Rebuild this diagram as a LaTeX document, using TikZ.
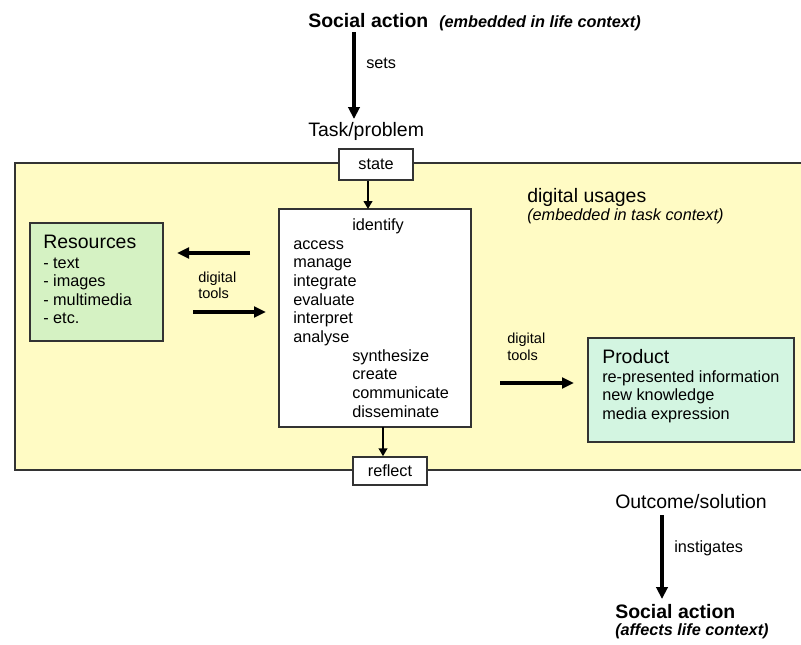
\documentclass[tikz,border=0pt]{standalone}
\usepackage{fontspec}
\setmainfont{Liberation Sans}
\usetikzlibrary{arrows.meta,calc}
\definecolor{usagefill}{HTML}{FFFBC4}
\definecolor{resfill}{HTML}{D5F2C3}
\definecolor{prodfill}{HTML}{D3F5E1}
\definecolor{framecol}{HTML}{333333}
\begin{document}
\begin{tikzpicture}[x=0.75pt,y=-0.75pt,
  txt/.style={anchor=base west, inner sep=0pt, font=\fontsize{12.2}{14}\selectfont},
  bigtxt/.style={anchor=base west, inner sep=0pt, font=\fontsize{14.6}{17}\selectfont},
  smalltxt/.style={anchor=base west, inner sep=0pt, font=\fontsize{10.9}{13}\selectfont},
  panel/.style={draw=framecol, line width=1.1pt, anchor=north west, inner sep=0pt, outer sep=0pt},
  smallbox/.style={draw=framecol, line width=1.1pt, fill=white, inner sep=0pt, font=\fontsize{12.2}{14}\selectfont},
  bigarrow/.style={line width=2.6pt, -{Triangle[length=9pt,width=8.5pt]}},
  toolarrow/.style={line width=2.4pt, -{Triangle[length=9pt,width=8pt]}},
  shortarrow/.style={line width=1.6pt, -{Triangle[length=6pt,width=6.5pt]}}
]
\useasboundingbox (0,0) rectangle (801,644);
\clip (0,0) rectangle (801,644);
\fill[white] (0,0) rectangle (801,644);

% top
\node[bigtxt, font=\fontsize{14.6}{17}\selectfont\bfseries] (sa1) at (308,27) {Social action};
\node[txt, font=\fontsize{12.2}{14}\selectfont\bfseries\itshape] (ctx1) at (439,27) {(embedded in life context)};
\coordinate (a1s) at (354,32);
\coordinate (a1e) at (354,119);
\draw[bigarrow] (a1s) -- (a1e);
\node[txt] (sets) at (366,68) {sets};
\node[bigtxt] (task) at (308,136) {Task/problem};

% yellow panel (runs past the right edge: no right side)
\node[anchor=north west, inner sep=0pt, outer sep=0pt, fill=usagefill, minimum width=640pt, minimum height=230.25pt] (usage) at (15,163) {};
\draw[draw=framecol, line width=1.1pt] (usage.north east) -- (usage.north west) -- (usage.south west) -- (usage.south east);
\node[bigtxt] (du) at (527,202) {digital usages};
\node[txt, font=\fontsize{12.2}{14}\selectfont\itshape] (ductx) at (527,220) {(embedded in task context)};

% state / reflect
\node[smallbox, minimum width=55.5pt, minimum height=23.25pt] (state) at (376,164.5) {state};
\node[smallbox, minimum width=55.5pt, minimum height=21pt] (reflect) at (390,471) {reflect};

% central box
\node[panel, fill=white, minimum width=144pt, minimum height=163.5pt] (central) at (279,209) {};
\node[txt] (l1) at (352,230) {identify};
\node[txt] (l2) at (293,249) {access};
\node[txt] (l3) at (293,267.5) {manage};
\node[txt] (l4) at (293,286) {integrate};
\node[txt] (l5) at (293,305) {evaluate};
\node[txt] (l6) at (293,323.5) {interpret};
\node[txt] (l7) at (293,342) {analyse};
\node[txt] (l8) at (352,361) {synthesize};
\node[txt] (l9) at (352,379.5) {create};
\node[txt] (l10) at (352,398) {communicate};
\node[txt] (l11) at (352,417) {disseminate};

\coordinate (sin) at ($(central.north)+(-7,0)$);
\draw[shortarrow] (state.south -| sin) -- (sin);
\coordinate (rout) at ($(central.south)+(8,0)$);
\draw[shortarrow] (rout) -- (reflect.north -| rout);

% resources
\node[panel, fill=resfill, minimum width=99.75pt, minimum height=88.5pt] (res) at (30,223) {};
\node[bigtxt] (r0) at (43,248) {Resources};
\node[txt] (r1) at (43,268) {- text};
\node[txt] (r2) at (43,286.5) {- images};
\node[txt] (r3) at (43,305) {- multimedia};
\node[txt] (r4) at (43,323.5) {- etc.};

\coordinate (la1) at (250,253);
\coordinate (la2) at (177,253);
\draw[toolarrow] (la1) -- (la2);
\coordinate (ra1) at (193,312);
\coordinate (ra2) at (266,312);
\draw[toolarrow] (ra1) -- (ra2);
\node[smalltxt] (dt1) at (198,282) {digital};
\node[smalltxt] (dt2) at (198,298) {tools};

% product
\node[panel, fill=prodfill, minimum width=154.5pt, minimum height=78pt] (prod) at (588,338) {};
\node[bigtxt] (p0) at (602,363) {Product};
\node[txt] (p1) at (602,382) {re-presented information};
\node[txt] (p2) at (602,400.5) {new knowledge};
\node[txt] (p3) at (602,419) {media expression};
\coordinate (pa1) at (500,383);
\coordinate (pa2) at (574,383);
\draw[toolarrow] (pa1) -- (pa2);
\node[smalltxt] (dt3) at (507,343) {digital};
\node[smalltxt] (dt4) at (507,360) {tools};

% bottom
\node[bigtxt] (out) at (615,508) {Outcome/solution};
\coordinate (b1s) at (662,515);
\coordinate (b1e) at (662,599);
\draw[bigarrow] (b1s) -- (b1e);
\node[txt] (inst) at (674,552) {instigates};
\node[bigtxt, font=\fontsize{14.6}{17}\selectfont\bfseries] (sa2) at (615,618) {Social action};
\node[txt, font=\fontsize{12.2}{14}\selectfont\bfseries\itshape] (ctx2) at (615,635) {(affects life context)};
\end{tikzpicture}
\end{document}
